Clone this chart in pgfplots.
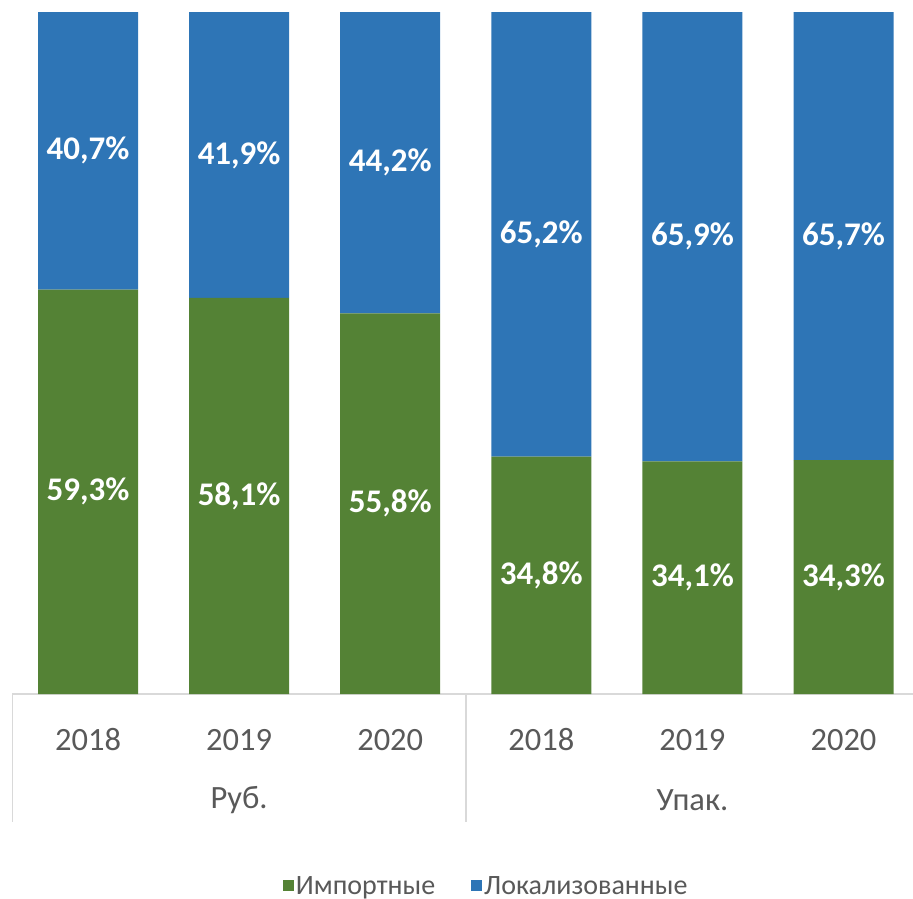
\documentclass[border=0pt]{standalone}
\usepackage{pgfplots}
\pgfplotsset{compat=1.18}
\usepackage{fontspec}
\setmainfont{Carlito}
\definecolor{cgreen}{HTML}{548235}
\definecolor{cblue}{HTML}{2E75B6}
\definecolor{ctext}{HTML}{595959}
\definecolor{cline}{HTML}{D9D9D9}
\pgfplotsset{
  base/.style={
    scale only axis, width=900.5pt, height=682pt,
    at={(12.5pt,-694pt)}, anchor=south west,
    xmin=-0.5, xmax=5.46, ymin=0, ymax=100, clip=false,
  }
}
\begin{document}
\begin{tikzpicture}
\path[use as bounding box] (0,0) rectangle (913pt,-899pt);
\begin{axis}[base,
  ybar stacked, bar width=100pt,
  axis y line=none, axis x line=bottom,
  x axis line style={-, draw=cline, line width=1.5pt},
  xtick={0,...,5}, xticklabels={2018,2019,2020,2018,2019,2020},
  major tick length=0pt,
  xticklabel style={anchor=center, yshift=-46pt, font=\fontsize{32.5}{38}\selectfont, text=ctext},
  legend style={draw=none, at={(0.526,-0.2815)}, anchor=center, legend columns=2,
    font=\fontsize{28}{33}\selectfont, text=ctext,
    /tikz/every even column/.append style={column sep=34pt}},
  legend image code/.code={\fill[#1] (0pt,-5.5pt) rectangle (11pt,5.5pt);},
]
\addplot[draw=none, fill=cgreen] coordinates {(0,59.3) (1,58.1) (2,55.8) (3,34.8) (4,34.1) (5,34.3)};
\addplot[draw=none, fill=cblue] coordinates {(0,40.7) (1,41.9) (2,44.2) (3,65.2) (4,65.9) (5,65.7)};
\legend{Импортные, Локализованные}
\draw[cline, line width=1.5pt] (axis cs:-0.5,0) -- ++(0pt,-128pt);
\draw[cline, line width=1.5pt] (axis cs:2.5,0) -- ++(0pt,-128pt);
\node[text=ctext, font=\fontsize{32.5}{38}\selectfont, anchor=center] at (axis cs:1,0) [yshift=-106pt] {Руб.};
\node[text=ctext, font=\fontsize{32.5}{38}\selectfont, anchor=center] at (axis cs:4,0) [yshift=-106pt] {Упак.};
\end{axis}
\begin{axis}[base, hide axis]
\addplot[draw=none, mark=none, point meta=explicit,
  nodes near coords={\pgfmathprintnumber[fixed,fixed zerofill,precision=1,use comma,assume math mode=true]{\pgfplotspointmeta}\%},
  every node near coord/.style={anchor=center, text=white, font=\bfseries\fontsize{33}{40}\selectfont}]
  table[meta=v] {
x y v
0 29.65 59.3
1 29.05 58.1
2 27.9 55.8
3 17.4 34.8
4 17.05 34.1
5 17.15 34.3
0 79.65 40.7
1 79.05 41.9
2 77.9 44.2
3 67.4 65.2
4 67.05 65.9
5 67.15 65.7
};
\end{axis}
\end{tikzpicture}
\end{document}
